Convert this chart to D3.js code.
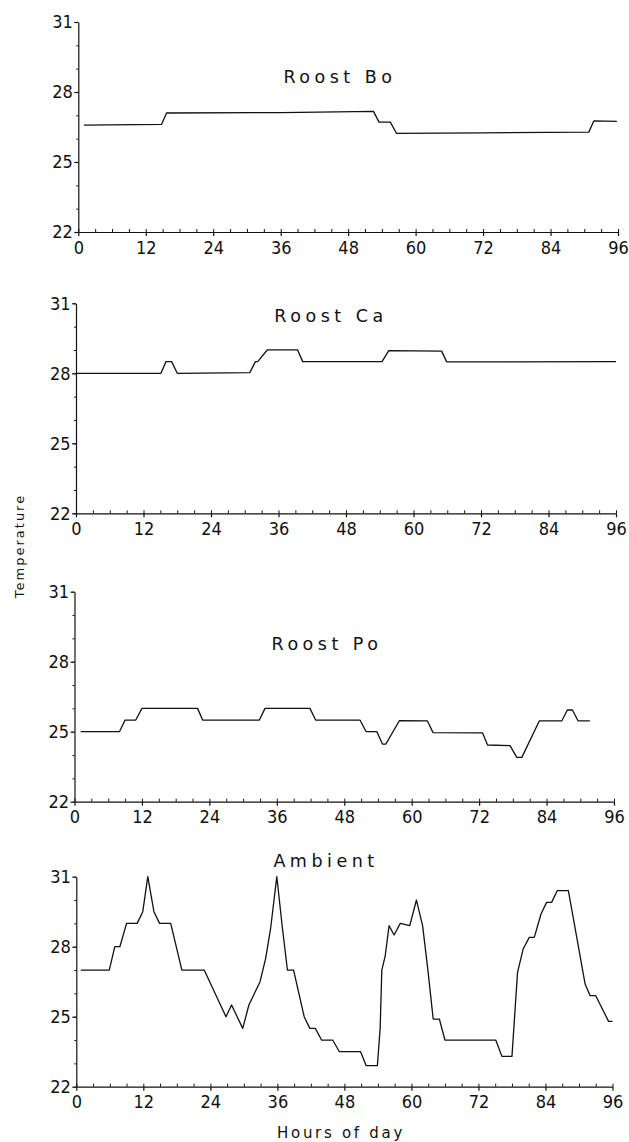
<!DOCTYPE html>
<html>
<head>
<meta charset="utf-8">
<script src="https://cdnjs.cloudflare.com/ajax/libs/d3/7.8.5/d3.min.js"></script>
<style>
  body { margin: 0; background: #fff; }
  svg { display: block; }
</style>
</head>
<body>
<script>

// Tick values and titles
var hourTicks = [0, 12, 24, 36, 48, 60, 72, 84, 96];
var tempTicks = [22, 25, 28, 31];
var panelTitles = ["Roost Bo", "Roost Ca", "Roost Po", "Ambient"];

// Series: [hour, temperature]
var roostBo = [[1, 26.58], [14.8, 26.61], [15.7, 27.1], [36, 27.12], [52.5, 27.17], [53.5, 26.71],
  [55.5, 26.71], [56.6, 26.23], [72, 26.25], [90.8, 26.28], [91.7, 26.76], [95.8, 26.74]];

var roostCa = [[0, 28.0], [15.1, 28.0], [16.0, 28.5], [17.0, 28.5], [18.0, 28.0], [30.9, 28.03],
  [31.9, 28.5], [32.3, 28.5], [34.0, 29.0], [39.4, 29.0], [40.3, 28.5], [54.4, 28.5],
  [55.6, 28.97], [65.0, 28.95], [65.9, 28.49], [96, 28.5]];

var roostPo = [[1.1, 25.0], [8.0, 25.0], [9.0, 25.5], [10.9, 25.5], [12.0, 26.0], [21.9, 26.0],
  [22.8, 25.5], [32.9, 25.5], [33.9, 26.0], [41.9, 26.0], [42.9, 25.5], [50.8, 25.5],
  [51.9, 25.0], [53.8, 25.0], [54.8, 24.47], [55.4, 24.47], [57.8, 25.47], [62.8, 25.46],
  [63.8, 24.96], [72.6, 24.95], [73.5, 24.43], [77.5, 24.4], [78.7, 23.9], [79.6, 23.9],
  [82.7, 25.46], [86.7, 25.46], [87.7, 25.93], [88.6, 25.93], [89.6, 25.47], [91.7, 25.46]];

var ambient = [[0.8, 27.0], [5.9, 27.0], [6.9, 28.0], [7.8, 28.0], [9.0, 29.0], [10.9, 29.0],
  [11.9, 29.5], [12.8, 31.0], [13.9, 29.5], [14.9, 29.0], [16.9, 29.0], [18.9, 27.0],
  [22.9, 27.0], [26.8, 25.0], [27.8, 25.5], [29.8, 24.5], [30.9, 25.5], [32.9, 26.5],
  [33.9, 27.5], [34.8, 28.8], [35.9, 31.0], [36.9, 28.8], [37.8, 27.0], [38.9, 27.0],
  [40.8, 25.0], [41.8, 24.5], [42.8, 24.5], [43.9, 24.0], [45.9, 24.0], [47.1, 23.5],
  [50.9, 23.5], [51.9, 22.9], [53.9, 22.9], [54.4, 24.5], [54.7, 27.0], [55.3, 27.6],
  [56.0, 28.9], [56.9, 28.5], [58.0, 29.0], [59.7, 28.9], [60.9, 30.0], [62.0, 28.9],
  [62.9, 27.1], [63.9, 24.9], [65.0, 24.9], [66.0, 24.0], [75.1, 24.0], [76.2, 23.3],
  [78.0, 23.3], [79.0, 26.9], [80.0, 27.9], [81.1, 28.4], [82.0, 28.4], [83.2, 29.4],
  [84.2, 29.9], [85.1, 29.9], [86.1, 30.4], [88.1, 30.4], [89.6, 28.4], [91.1, 26.4],
  [92.0, 25.9], [93.0, 25.9], [95.3, 24.8], [96.0, 24.8]];

var panelSeries = [roostBo, roostCa, roostPo, ambient];

// Layout
var svgWidth = 629;
var svgHeight = 1142;
var panelLefts = [78.3, 76, 74.5, 76.3];
var panelRights = [618, 616, 614, 612.5];
var panelTops = [22, 303.3, 591.7, 876.7];
var panelHeight = 210;
var titlePos = [[340, 83], [331, 322], [327, 650], [326, 867]];

var tickFont = "'Liberation Sans Narrow', 'DejaVu Sans Condensed', sans-serif";
var textFont = "'DejaVu Sans', sans-serif";

var svg = d3.select("body")
  .append("svg")
    .attr("width", svgWidth)
    .attr("height", svgHeight)
    .style("background", "#fff");

panelSeries.forEach(function(series, i) {

  var x = d3.scaleLinear().domain([0, 96]).range([panelLefts[i], panelRights[i]]);
  var y = d3.scaleLinear().domain([22, 31]).range([panelTops[i] + panelHeight, panelTops[i]]);
  var bottom = panelTops[i] + panelHeight;

  var g = svg.append("g");

  // minor ticks on the y axis, every degree
  g.append("g")
    .attr("transform", "translate(" + panelLefts[i] + ",0)")
    .call(d3.axisLeft(y).tickValues(d3.range(22, 32, 1)).tickSize(2).tickSizeOuter(0).tickFormat(""))
    .call(function(a) { a.select(".domain").remove(); });

  // minor ticks on the x axis, every 3 hours (pointing up)
  g.append("g")
    .attr("transform", "translate(0," + bottom + ")")
    .call(d3.axisTop(x).tickValues(d3.range(0, 97, 3)).tickSize(3).tickSizeOuter(0).tickFormat(""))
    .call(function(a) { a.select(".domain").remove(); });

  // main y axis
  var yAxis = g.append("g")
    .attr("transform", "translate(" + panelLefts[i] + ",0)")
    .call(d3.axisLeft(y).tickValues(tempTicks).tickSize(4).tickSizeOuter(0).tickPadding(1.5));

  // main x axis
  var xAxis = g.append("g")
    .attr("transform", "translate(0," + bottom + ")")
    .call(d3.axisBottom(x).tickValues(hourTicks).tickSize(4).tickSizeOuter(0).tickPadding(5));

  [yAxis, xAxis].forEach(function(a) {
    a.attr("font-family", tickFont).attr("font-size", 18);
    a.selectAll("path, line").attr("stroke", "#111").attr("stroke-width", 1.2);
    a.selectAll("text").attr("fill", "#111");
  });

  g.selectAll("g g line").attr("stroke", "#111");

  // temperature line
  var line = d3.line()
    .x(function(d) { return x(d[0]); })
    .y(function(d) { return y(d[1]); });

  g.append("path")
    .datum(series)
    .attr("d", line)
    .attr("fill", "none")
    .attr("stroke", "#111")
    .attr("stroke-width", 1.3)
    .attr("stroke-linejoin", "round");

  // panel title
  g.append("text")
    .attr("x", titlePos[i][0])
    .attr("y", titlePos[i][1])
    .attr("text-anchor", "middle")
    .attr("font-family", textFont)
    .attr("font-size", 17.5)
    .style("letter-spacing", "4.5px")
    .attr("fill", "#111")
    .text(panelTitles[i]);
});

// shared axis labels
svg.append("text")
  .attr("transform", "translate(24,546) rotate(-90)")
  .attr("text-anchor", "middle")
  .attr("font-family", textFont)
  .attr("font-size", 13)
  .style("letter-spacing", "2px")
  .attr("fill", "#111")
  .text("Temperature");

svg.append("text")
  .attr("x", 341)
  .attr("y", 1138)
  .attr("text-anchor", "middle")
  .attr("font-family", textFont)
  .attr("font-size", 15)
  .style("letter-spacing", "2.7px")
  .attr("fill", "#111")
  .text("Hours of day");

</script>
</body>
</html>
